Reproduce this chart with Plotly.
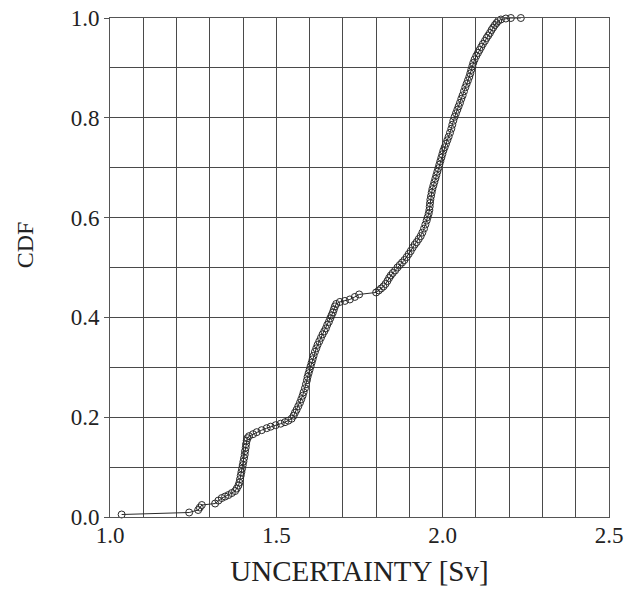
import plotly.graph_objects as go

# Empirical CDF of the dose uncertainty samples (sorted sample value, cumulative probability)
uncertainty_sv = [
    1.035, 1.238, 1.265, 1.270, 1.276, 1.316, 1.326, 1.336, 1.346, 1.356,
    1.366, 1.376, 1.381, 1.386, 1.389, 1.391, 1.393, 1.395, 1.397, 1.399,
    1.401, 1.403, 1.405, 1.406, 1.408, 1.409, 1.411, 1.413, 1.418, 1.430,
    1.441, 1.456, 1.471, 1.483, 1.498, 1.513, 1.526, 1.536, 1.546, 1.552,
    1.556, 1.561, 1.566, 1.571, 1.575, 1.579, 1.582, 1.586, 1.589, 1.592,
    1.594, 1.597, 1.600, 1.603, 1.606, 1.609, 1.612, 1.616, 1.620, 1.624,
    1.629, 1.634, 1.639, 1.644, 1.649, 1.653, 1.658, 1.662, 1.666, 1.670,
    1.673, 1.676, 1.680, 1.691, 1.706, 1.721, 1.736, 1.749, 1.800, 1.808,
    1.815, 1.822, 1.828, 1.834, 1.839, 1.844, 1.850, 1.857, 1.864, 1.871,
    1.878, 1.885, 1.892, 1.898, 1.904, 1.910, 1.916, 1.922, 1.928, 1.934,
    1.939, 1.944, 1.948, 1.952, 1.955, 1.958, 1.960, 1.961, 1.962, 1.963,
    1.965, 1.967, 1.969, 1.972, 1.975, 1.978, 1.981, 1.984, 1.987, 1.990,
    1.993, 1.996, 1.999, 2.002, 2.006, 2.010, 2.014, 2.018, 2.022, 2.026,
    2.029, 2.032, 2.036, 2.040, 2.044, 2.048, 2.052, 2.056, 2.060, 2.064,
    2.068, 2.072, 2.076, 2.080, 2.083, 2.086, 2.089, 2.092, 2.096, 2.101,
    2.106, 2.111, 2.116, 2.121, 2.127, 2.132, 2.137, 2.142, 2.147, 2.152,
    2.157, 2.162, 2.167, 2.175, 2.190, 2.205, 2.235,
]
cdf = [
    0.005, 0.009, 0.014, 0.019, 0.024, 0.027, 0.033, 0.038, 0.041, 0.044,
    0.048, 0.052, 0.057, 0.063, 0.069, 0.076, 0.083, 0.090, 0.097, 0.104,
    0.111, 0.118, 0.125, 0.132, 0.139, 0.146, 0.153, 0.158, 0.162, 0.166,
    0.170, 0.174, 0.178, 0.181, 0.184, 0.187, 0.190, 0.193, 0.197, 0.203,
    0.209, 0.215, 0.222, 0.229, 0.236, 0.243, 0.250, 0.258, 0.266, 0.274,
    0.281, 0.288, 0.295, 0.302, 0.309, 0.316, 0.323, 0.331, 0.338, 0.345,
    0.352, 0.359, 0.366, 0.372, 0.378, 0.385, 0.391, 0.398, 0.404, 0.410,
    0.416, 0.422, 0.427, 0.431, 0.433, 0.436, 0.441, 0.446, 0.450, 0.454,
    0.458, 0.462, 0.467, 0.473, 0.479, 0.484, 0.489, 0.494, 0.500, 0.505,
    0.510, 0.515, 0.521, 0.527, 0.533, 0.540, 0.546, 0.551, 0.557, 0.563,
    0.570, 0.578, 0.586, 0.594, 0.601, 0.608, 0.615, 0.622, 0.629, 0.636,
    0.643, 0.650, 0.657, 0.664, 0.671, 0.678, 0.685, 0.692, 0.699, 0.706,
    0.713, 0.720, 0.727, 0.734, 0.741, 0.748, 0.755, 0.762, 0.770, 0.778,
    0.786, 0.794, 0.802, 0.809, 0.816, 0.823, 0.830, 0.838, 0.845, 0.853,
    0.861, 0.868, 0.875, 0.882, 0.889, 0.896, 0.903, 0.910, 0.917, 0.924,
    0.930, 0.936, 0.942, 0.948, 0.954, 0.960, 0.965, 0.970, 0.976, 0.981,
    0.986, 0.990, 0.994, 0.997, 0.999, 1.000, 1.000,
]

x_ticks = [1.0, 1.5, 2.0, 2.5]
x_ticktext = ["1.0", "1.5", "2.0", "2.5"]
y_ticks = [0.0, 0.2, 0.4, 0.6, 0.8, 1.0]
y_ticktext = ["0.0", "0.2", "0.4", "0.6", "0.8", "1.0"]
grid_x = [1.1, 1.2, 1.3, 1.4, 1.6, 1.7, 1.8, 1.9, 2.1, 2.2, 2.3, 2.4]
grid_y = [0.1, 0.3, 0.5, 0.7, 0.9]

FONT = "Liberation Serif"
GRID = "#4a4a4a"
TEXT = "#222222"

fig = go.Figure(
    go.Scatter(
        x=uncertainty_sv,
        y=cdf,
        mode="lines+markers",
        line=dict(color="#2a2a2a", width=1),
        marker=dict(symbol="circle-open", size=7, color="#2a2a2a",
                    line=dict(width=1, color="#2a2a2a")),
        cliponaxis=False,
        showlegend=False,
    )
)

fig.update_xaxes(
    range=[1.0, 2.5], automargin=False,
    tickmode="array", tickvals=x_ticks, ticktext=x_ticktext,
    showgrid=True, gridcolor=GRID, gridwidth=1,
    minor=dict(tickmode="array", tickvals=grid_x, showgrid=True,
               gridcolor=GRID, gridwidth=1),
    showline=True, linecolor="#555555", linewidth=1, mirror=True,
    ticks="", zeroline=False, ticklabelstandoff=-3,
    tickfont=dict(family=FONT, size=23, color=TEXT),
    title=dict(text="UNCERTAINTY [Sv]", standoff=14,
               font=dict(family=FONT, size=29, color=TEXT)),
)
fig.update_yaxes(
    range=[0.0, 1.0], automargin=False,
    tickmode="array", tickvals=y_ticks, ticktext=y_ticktext,
    showgrid=True, gridcolor=GRID, gridwidth=1,
    minor=dict(tickmode="array", tickvals=grid_y, showgrid=True,
               gridcolor=GRID, gridwidth=1),
    showline=True, linecolor="#555555", linewidth=1, mirror=True,
    ticks="outside", ticklen=5, tickcolor="#555555",
    zeroline=False,
    tickfont=dict(family=FONT, size=23, color=TEXT),
)

# Vertical axis label, sitting slightly above the middle of the axis
fig.add_annotation(
    text="CDF", textangle=-90, showarrow=False,
    xref="paper", yref="paper", x=-0.17, y=0.545,
    xanchor="center", yanchor="middle",
    font=dict(family=FONT, size=24, color=TEXT),
)

fig.update_layout(
    width=637, height=590, autosize=False,
    margin=dict(l=110, r=28, t=18, b=73),
    paper_bgcolor="white", plot_bgcolor="white",
)

fig.write_html("out.html")
